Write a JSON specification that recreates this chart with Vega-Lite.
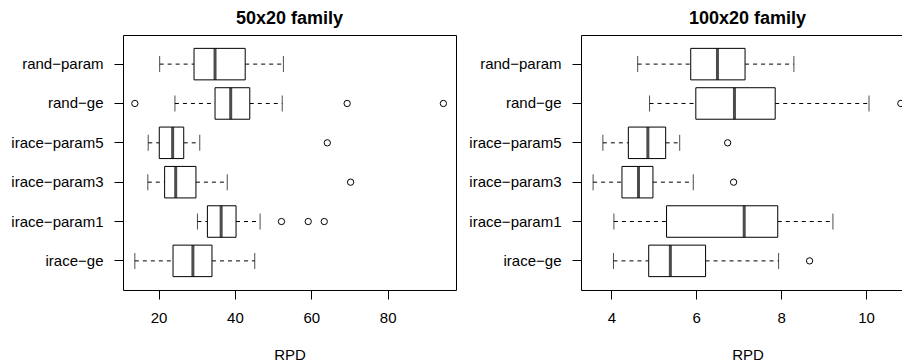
{
  "$schema": "https://vega.github.io/schema/vega-lite/v6.json",
  "padding": {"left": 9, "top": 9, "right": -13, "bottom": 0},
  "spacing": 10,
  "background": "white",
  "config": {
    "font": "Liberation Sans",
    "view": {"stroke": "black", "strokeWidth": 1},
    "axis": {
      "labelFont": "Liberation Sans", "labelFontSize": 15, "labelColor": "black",
      "titleFont": "Liberation Sans", "titleFontSize": 15, "titleFontWeight": "normal", "titleColor": "black",
      "tickColor": "black", "tickSize": 9, "domain": false, "grid": false
    },
    "axisX": {"labelPadding": 11, "titlePadding": 22},
    "axisY": {"labelPadding": 11, "minExtent": 113, "maxExtent": 113},
    "title": {"font": "Liberation Sans", "fontSize": 18, "fontWeight": "bold", "color": "black", "offset": 7, "anchor": "middle"}
  },
  "datasets": {
    "boxes50": [
      {"group": "rand−param", "lower": 20.3, "q1": 29.3, "median": 34.8, "q3": 42.7, "upper": 52.7},
      {"group": "rand−ge", "lower": 24.3, "q1": 34.8, "median": 38.9, "q3": 43.9, "upper": 52.4},
      {"group": "irace−param5", "lower": 17.3, "q1": 20.2, "median": 23.7, "q3": 26.6, "upper": 30.8},
      {"group": "irace−param3", "lower": 17.2, "q1": 21.6, "median": 24.5, "q3": 29.8, "upper": 38.0},
      {"group": "irace−param1", "lower": 30.2, "q1": 32.8, "median": 36.4, "q3": 40.3, "upper": 46.6},
      {"group": "irace−ge", "lower": 13.8, "q1": 23.8, "median": 29.0, "q3": 34.0, "upper": 45.2}
    ],
    "out50": [
      {"group": "rand−ge", "value": 13.8},
      {"group": "rand−ge", "value": 69.4},
      {"group": "rand−ge", "value": 94.6},
      {"group": "irace−param5", "value": 64.2},
      {"group": "irace−param3", "value": 70.3},
      {"group": "irace−param1", "value": 52.2},
      {"group": "irace−param1", "value": 59.2},
      {"group": "irace−param1", "value": 63.4}
    ],
    "boxes100": [
      {"group": "rand−param", "lower": 4.62, "q1": 5.87, "median": 6.50, "q3": 7.15, "upper": 8.30},
      {"group": "rand−ge", "lower": 4.90, "q1": 5.99, "median": 6.90, "q3": 7.86, "upper": 10.07},
      {"group": "irace−param5", "lower": 3.80, "q1": 4.40, "median": 4.86, "q3": 5.28, "upper": 5.61},
      {"group": "irace−param3", "lower": 3.57, "q1": 4.25, "median": 4.64, "q3": 4.98, "upper": 5.93},
      {"group": "irace−param1", "lower": 4.06, "q1": 5.30, "median": 7.13, "q3": 7.92, "upper": 9.22},
      {"group": "irace−ge", "lower": 4.05, "q1": 4.88, "median": 5.39, "q3": 6.22, "upper": 7.94}
    ],
    "out100": [
      {"group": "rand−ge", "value": 10.82},
      {"group": "irace−param5", "value": 6.74},
      {"group": "irace−param3", "value": 6.88},
      {"group": "irace−ge", "value": 8.67}
    ]
  },
  "hconcat": [
    {
      "title": "50x20 family",
      "width": 333,
      "height": 255,
      "layer": [
        {
          "data": {"name": "boxes50"},
          "mark": {"type": "rule", "color": "black", "strokeDash": [4, 4], "strokeWidth": 1},
          "encoding": {
            "y": {"field": "group", "type": "nominal", "title": null, "sort": ["rand−param", "rand−ge", "irace−param5", "irace−param3", "irace−param1", "irace−ge"], "scale": {"paddingInner": 0, "paddingOuter": 0.24}},
            "x": {"field": "lower", "type": "quantitative", "title": "RPD", "scale": {"domain": [10.7, 97.9], "nice": false, "zero": false}, "axis": {"values": [20, 40, 60, 80]}},
            "x2": {"field": "q1"}
          }
        },
        {
          "data": {"name": "boxes50"},
          "mark": {"type": "rule", "color": "black", "strokeDash": [4, 4], "strokeWidth": 1},
          "encoding": {
            "y": {"field": "group", "type": "nominal", "title": null, "sort": ["rand−param", "rand−ge", "irace−param5", "irace−param3", "irace−param1", "irace−ge"]},
            "x": {"field": "q3", "type": "quantitative", "title": "RPD"},
            "x2": {"field": "upper"}
          }
        },
        {
          "data": {"name": "boxes50"},
          "mark": {"type": "tick", "color": "black", "size": 16, "thickness": 1, "orient": "vertical"},
          "encoding": {
            "y": {"field": "group", "type": "nominal", "title": null, "sort": ["rand−param", "rand−ge", "irace−param5", "irace−param3", "irace−param1", "irace−ge"]},
            "x": {"field": "lower", "type": "quantitative", "title": "RPD"}
          }
        },
        {
          "data": {"name": "boxes50"},
          "mark": {"type": "tick", "color": "black", "size": 16, "thickness": 1, "orient": "vertical"},
          "encoding": {
            "y": {"field": "group", "type": "nominal", "title": null, "sort": ["rand−param", "rand−ge", "irace−param5", "irace−param3", "irace−param1", "irace−ge"]},
            "x": {"field": "upper", "type": "quantitative", "title": "RPD"}
          }
        },
        {
          "data": {"name": "boxes50"},
          "mark": {"type": "bar", "fill": "white", "stroke": "black", "strokeWidth": 1, "height": 31.5},
          "encoding": {
            "y": {"field": "group", "type": "nominal", "title": null, "sort": ["rand−param", "rand−ge", "irace−param5", "irace−param3", "irace−param1", "irace−ge"]},
            "x": {"field": "q1", "type": "quantitative", "title": "RPD"},
            "x2": {"field": "q3"}
          }
        },
        {
          "data": {"name": "boxes50"},
          "mark": {"type": "tick", "color": "black", "size": 31.5, "thickness": 3, "orient": "vertical"},
          "encoding": {
            "y": {"field": "group", "type": "nominal", "title": null, "sort": ["rand−param", "rand−ge", "irace−param5", "irace−param3", "irace−param1", "irace−ge"]},
            "x": {"field": "median", "type": "quantitative", "title": "RPD"}
          }
        },
        {
          "data": {"name": "out50"},
          "mark": {"type": "point", "shape": "circle", "filled": false, "stroke": "black", "strokeWidth": 1, "size": 40, "opacity": 1},
          "encoding": {
            "y": {"field": "group", "type": "nominal", "title": null, "sort": ["rand−param", "rand−ge", "irace−param5", "irace−param3", "irace−param1", "irace−ge"]},
            "x": {"field": "value", "type": "quantitative", "title": "RPD"}
          }
        }
      ]
    },
    {
      "title": "100x20 family",
      "width": 333,
      "height": 255,
      "layer": [
        {
          "data": {"name": "boxes100"},
          "mark": {"type": "rule", "color": "black", "strokeDash": [4, 4], "strokeWidth": 1},
          "encoding": {
            "y": {"field": "group", "type": "nominal", "title": null, "sort": ["rand−param", "rand−ge", "irace−param5", "irace−param3", "irace−param1", "irace−ge"], "scale": {"paddingInner": 0, "paddingOuter": 0.24}},
            "x": {"field": "lower", "type": "quantitative", "title": "RPD", "scale": {"domain": [3.285, 11.13], "nice": false, "zero": false}, "axis": {"values": [4, 6, 8, 10]}},
            "x2": {"field": "q1"}
          }
        },
        {
          "data": {"name": "boxes100"},
          "mark": {"type": "rule", "color": "black", "strokeDash": [4, 4], "strokeWidth": 1},
          "encoding": {
            "y": {"field": "group", "type": "nominal", "title": null, "sort": ["rand−param", "rand−ge", "irace−param5", "irace−param3", "irace−param1", "irace−ge"]},
            "x": {"field": "q3", "type": "quantitative", "title": "RPD"},
            "x2": {"field": "upper"}
          }
        },
        {
          "data": {"name": "boxes100"},
          "mark": {"type": "tick", "color": "black", "size": 16, "thickness": 1, "orient": "vertical"},
          "encoding": {
            "y": {"field": "group", "type": "nominal", "title": null, "sort": ["rand−param", "rand−ge", "irace−param5", "irace−param3", "irace−param1", "irace−ge"]},
            "x": {"field": "lower", "type": "quantitative", "title": "RPD"}
          }
        },
        {
          "data": {"name": "boxes100"},
          "mark": {"type": "tick", "color": "black", "size": 16, "thickness": 1, "orient": "vertical"},
          "encoding": {
            "y": {"field": "group", "type": "nominal", "title": null, "sort": ["rand−param", "rand−ge", "irace−param5", "irace−param3", "irace−param1", "irace−ge"]},
            "x": {"field": "upper", "type": "quantitative", "title": "RPD"}
          }
        },
        {
          "data": {"name": "boxes100"},
          "mark": {"type": "bar", "fill": "white", "stroke": "black", "strokeWidth": 1, "height": 31.5},
          "encoding": {
            "y": {"field": "group", "type": "nominal", "title": null, "sort": ["rand−param", "rand−ge", "irace−param5", "irace−param3", "irace−param1", "irace−ge"]},
            "x": {"field": "q1", "type": "quantitative", "title": "RPD"},
            "x2": {"field": "q3"}
          }
        },
        {
          "data": {"name": "boxes100"},
          "mark": {"type": "tick", "color": "black", "size": 31.5, "thickness": 3, "orient": "vertical"},
          "encoding": {
            "y": {"field": "group", "type": "nominal", "title": null, "sort": ["rand−param", "rand−ge", "irace−param5", "irace−param3", "irace−param1", "irace−ge"]},
            "x": {"field": "median", "type": "quantitative", "title": "RPD"}
          }
        },
        {
          "data": {"name": "out100"},
          "mark": {"type": "point", "shape": "circle", "filled": false, "stroke": "black", "strokeWidth": 1, "size": 40, "opacity": 1},
          "encoding": {
            "y": {"field": "group", "type": "nominal", "title": null, "sort": ["rand−param", "rand−ge", "irace−param5", "irace−param3", "irace−param1", "irace−ge"]},
            "x": {"field": "value", "type": "quantitative", "title": "RPD"}
          }
        }
      ]
    }
  ]
}
